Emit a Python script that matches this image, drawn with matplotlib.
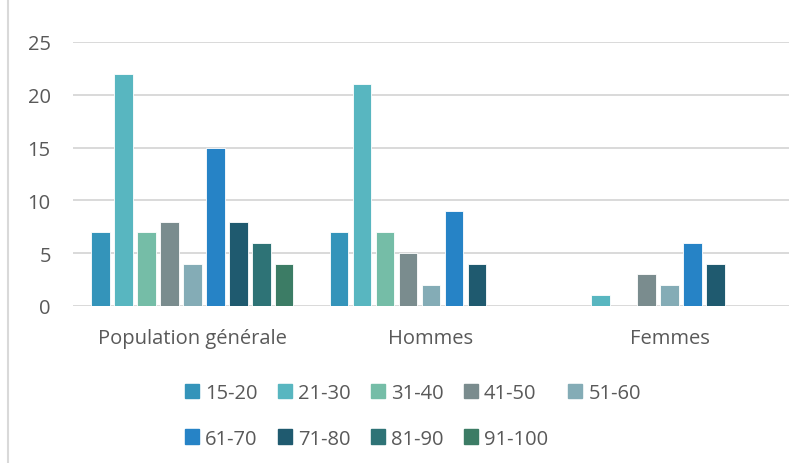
import numpy as np
import matplotlib
matplotlib.use('Agg')
import matplotlib.pyplot as plt
from matplotlib.lines import Line2D

# data
groups = ['Population générale', 'Hommes', 'Femmes']
age_bands = ['15-20', '21-30', '31-40', '41-50', '51-60',
             '61-70', '71-80', '81-90', '91-100']
pop_generale = [7, 22, 7, 8, 4, 15, 8, 6, 4]
hommes = [7, 21, 7, 5, 2, 9, 4, 0, 0]
femmes = [0, 1, 0, 3, 2, 6, 4, 0, 0]
colors = ['#3494BA', '#58B6C0', '#75BDA7', '#7A8C8E', '#84ACB6',
          '#2683C6', '#1F5A6F', '#2E7376', '#3C7C65']

values = np.array([pop_generale, hommes, femmes])  # groups x bands
txt_col = '#595959'
font = 'Open Sans'
fsize = 14.5

fig = plt.figure(figsize=(8.05, 4.64), dpi=100)
ax = fig.add_axes([73/805, 1-307/464, (789-73)/805, (307-43)/464])

x = np.arange(len(groups))
slot = 0.0962
n = len(age_bands)
handles = []
for i, band in enumerate(age_bands):
    v = values[:, i]
    pos = x + (i - (n-1)/2) * slot
    keep = v > 0
    ax.bar(pos[keep], v[keep], width=0.078, color=colors[i],
           edgecolor='white', linewidth=0.6, zorder=3)
    handles.append(plt.Rectangle((0, 0), 1, 1, color=colors[i]))

ax.set_xlim(-0.5, 2.5)
ax.set_ylim(0, 25)
ax.set_yticks([0, 5, 10, 15, 20, 25])
ax.yaxis.grid(True, color='#D9D9D9', linewidth=1.4, zorder=0)
ax.set_axisbelow(True)
for s in ax.spines.values():
    s.set_visible(False)
ax.tick_params(axis='both', length=0, colors=txt_col, labelsize=fsize)
ax.tick_params(axis='y', pad=16)
ax.tick_params(axis='x', pad=16)
ax.set_xticks(x)
ax.set_xticklabels(groups)
for lab in ax.get_xticklabels() + ax.get_yticklabels():
    lab.set_fontfamily(font)

# legend in rows of 5 (matplotlib fills columns first)
order = [0, 5, 1, 6, 2, 7, 3, 8, 4]
leg = fig.legend([handles[k] for k in order], [age_bands[k] for k in order],
                 loc='center', bbox_to_anchor=(413/805, 1-417/464), ncol=5,
                 frameon=False, handlelength=0.7, handleheight=0.7,
                 handletextpad=0.3, columnspacing=1.0, labelspacing=1.25,
                 prop={'family': font, 'size': fsize})
for t in leg.get_texts():
    t.set_color(txt_col)

# light border on the left of the chart area
fig.add_artist(Line2D([8/805, 8/805], [0, 1], transform=fig.transFigure,
                      color='#D9D9D9', linewidth=1.5))

fig.savefig('out.png', dpi=100)
